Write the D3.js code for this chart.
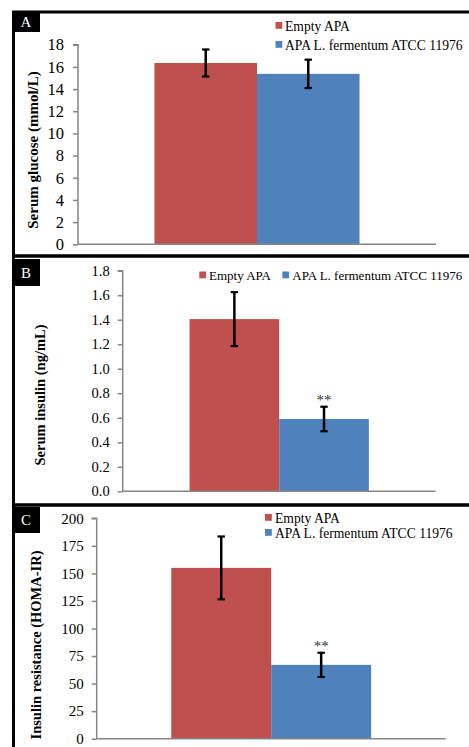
<!DOCTYPE html>
<html><head><meta charset="utf-8">
<script src="https://cdn.jsdelivr.net/npm/d3@7"></script>
<style>
html,body{margin:0;padding:0;background:#fff;}
svg{display:block;}
text{font-family:"Liberation Serif","Times New Roman",serif;}
</style></head>
<body>
<script>
// ---- data ----
const series = ["Empty APA", "APA L. fermentum ATCC 11976"];
const seriesColors = ["#C0504D", "#4F81BD"];
const glucoseMeans = [16.35, 15.37];
const glucoseErrors = [1.22, 1.28];
const glucoseTicks = [0, 2, 4, 6, 8, 10, 12, 14, 16, 18];
const insulinMeans = [1.405, 0.59];
const insulinErrors = [0.22, 0.1];
const insulinTicks = [0, 0.2, 0.4, 0.6, 0.8, 1.0, 1.2, 1.4, 1.6, 1.8];
const homaMeans = [155, 67];
const homaErrors = [28.5, 11];
const homaTicks = [0, 25, 50, 75, 100, 125, 150, 175, 200];
const insulinMarks = ["", "**"];
const homaMarks = ["", "**"];

const W = 469, H = 747;
const svg = d3.select("body").append("svg").attr("width", W).attr("height", H);

const panels = [
  {letter:"A", title:"Serum glucose (mmol/L)", means:glucoseMeans, errs:glucoseErrors, ticks:glucoseTicks, fmt:d3.format("d"), marks:["",""],
   box:[12,256], lab:[11,32], ax:78, ar:436, yt:44.7, yb:244.3, tickFs:16.5, tickPad:9, titleX:38, titleY:150, titleFs:15,
   legend:{mode:"rows", sx:275.5, ys:[22,41], tx:285, fs:13.6}},
  {letter:"B", title:"Serum insulin (ng/mL)", means:insulinMeans, errs:insulinErrors, ticks:insulinTicks, fmt:d3.format(".1f"), marks:insulinMarks,
   box:[256,505], lab:[259,286], ax:122.7, ar:435.7, yt:270.7, yb:491.3, tickFs:14.5, tickPad:8, titleX:45, titleY:395, titleFs:14.5,
   legend:{mode:"row", sx:[199.3,282.3], y:271.5, tx:[209,292.3], fs:13}},
  {letter:"C", title:"Insulin resistance (HOMA-IR)", means:homaMeans, errs:homaErrors, ticks:homaTicks, fmt:d3.format("d"), marks:homaMarks,
   box:[505,760], lab:[507,533], ax:96.7, ar:445.7, yt:518.3, yb:738.7, tickFs:15, tickPad:8, titleX:41, titleY:645, titleFs:14.5,
   legend:{mode:"rows", sx:265, ys:[514,529], tx:275, fs:13.6}}
];

panels.forEach(p => {
  const g = svg.append("g");
  // panel frame (left, top, bottom)
  g.append("path")
    .attr("d", `M${W+5},${p.box[0]} H13.5 V${p.box[1]} H${W+5}`)
    .attr("fill","none").attr("stroke","#000").attr("stroke-width",3);
  // letter label
  g.append("rect").attr("x",12).attr("y",p.lab[0]).attr("width",28).attr("height",p.lab[1]-p.lab[0]).attr("fill","#000");
  g.append("text").attr("x",26).attr("y",(p.lab[0]+p.lab[1])/2+5).attr("text-anchor","middle")
    .attr("fill","#fff").attr("font-size",15).text(p.letter);

  const y = d3.scaleLinear().domain([p.ticks[0], p.ticks[p.ticks.length-1]]).range([p.yb, p.yt]);
  const x0 = d3.scaleBand().domain(["group"]).range([p.ax, p.ar]).paddingOuter(0.373).paddingInner(0);
  const x1 = d3.scaleBand().domain(series).range([x0("group"), x0("group")+x0.bandwidth()]).padding(0);

  // bars
  g.selectAll("rect.bar").data(series).join("rect").attr("class","bar")
    .attr("x", s => x1(s)).attr("width", x1.bandwidth())
    .attr("y", (s,i) => y(p.means[i])).attr("height", (s,i) => p.yb - y(p.means[i]))
    .attr("fill", (s,i) => seriesColors[i]);

  // axes
  const yAxis = d3.axisLeft(y).tickValues(p.ticks).tickFormat(p.fmt).tickSize(5).tickPadding(p.tickPad);
  const ag = g.append("g").attr("transform",`translate(${p.ax},0)`).call(yAxis);
  ag.select(".domain").attr("stroke","#868686").attr("stroke-width",1.5).attr("d",`M-5,${p.yt}H0V${p.yb}`);
  ag.selectAll(".tick line").attr("stroke","#868686").attr("stroke-width",1.5);
  ag.selectAll(".tick text").attr("font-size",p.tickFs).attr("fill","#000")
    .attr("font-family",'"Liberation Serif","Times New Roman",serif');
  g.append("line").attr("x1",p.ax).attr("x2",p.ar).attr("y1",p.yb).attr("y2",p.yb)
    .attr("stroke","#868686").attr("stroke-width",1.5);

  // error bars
  const eg = g.selectAll("g.err").data(series).join("g").attr("class","err");
  eg.each(function(s,i){
    const cx = x1(s) + x1.bandwidth()/2;
    const top = y(p.means[i]+p.errs[i]), bot = y(p.means[i]-p.errs[i]);
    const e = d3.select(this);
    e.append("line").attr("x1",cx).attr("x2",cx).attr("y1",top).attr("y2",bot).attr("stroke","#000").attr("stroke-width",2.5);
    [top,bot].forEach(yy => e.append("line").attr("x1",cx-3.7).attr("x2",cx+3.7).attr("y1",yy).attr("y2",yy).attr("stroke","#000").attr("stroke-width",2.2));
    if (p.marks[i]) {
      e.append("text").attr("x",cx).attr("y",top-1.5).attr("text-anchor","middle")
        .attr("font-size",15).attr("fill","#333").text(p.marks[i]);
    }
  });

  // y title
  g.append("text").attr("transform",`translate(${p.titleX},${p.titleY}) rotate(-90)`)
    .attr("text-anchor","middle").attr("font-weight","bold").attr("font-size",p.titleFs).text(p.title);

  // legend
  const L = p.legend;
  series.forEach((s,i) => {
    let sx, sy, tx;
    if (L.mode === "rows") { sx = L.sx; sy = L.ys[i]; tx = L.tx; }
    else { sx = L.sx[i]; sy = L.y; tx = L.tx[i]; }
    g.append("rect").attr("x",sx).attr("y",sy).attr("width",6.8).attr("height",6.8).attr("fill",seriesColors[i]);
    g.append("text").attr("x",tx).attr("y",sy+8.5).attr("font-size",L.fs).attr("fill","#000").text(s);
  });
});
</script>
</body></html>
